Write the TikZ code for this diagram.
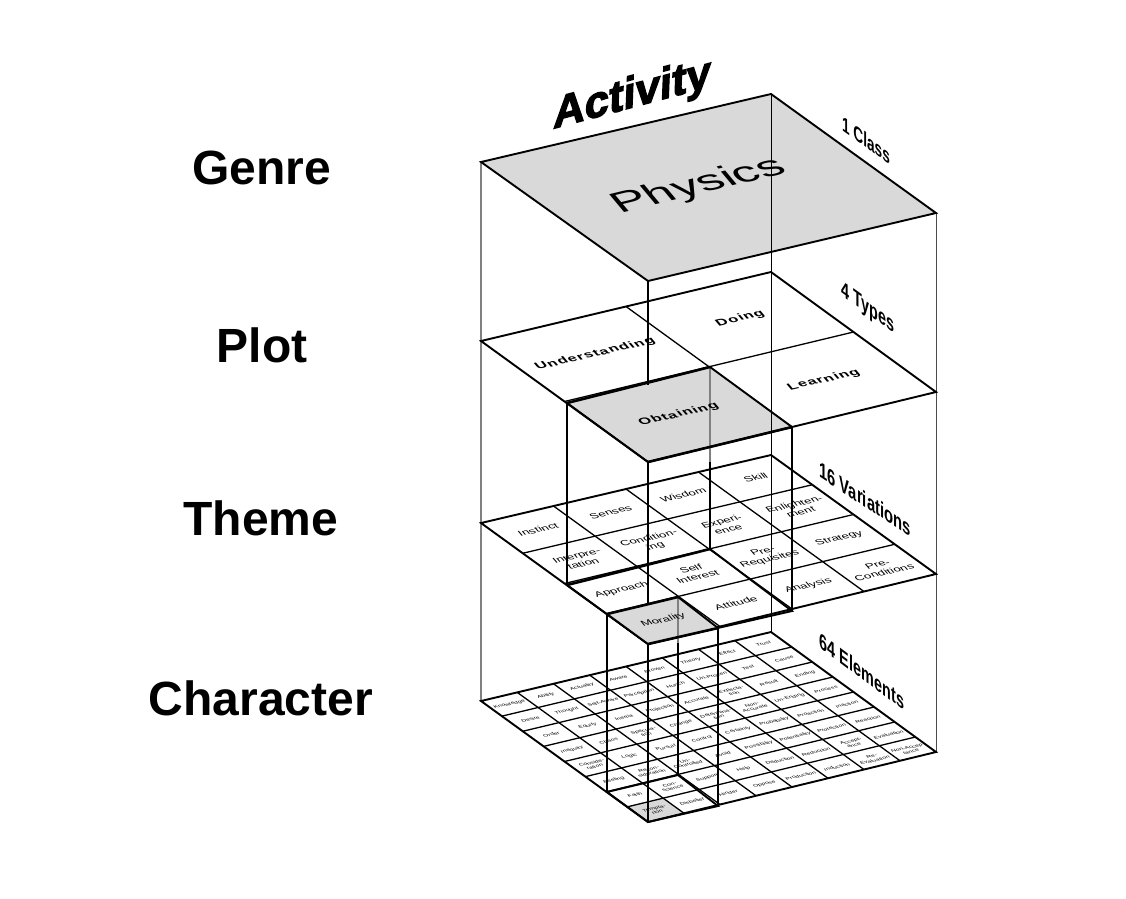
\documentclass[tikz,border=0pt]{standalone}
\usepackage{fontspec}
\setmainfont{Liberation Sans}
\newfontfamily\heavyf[FakeBold=3,FakeStretch=1.12]{Liberation Sans Bold}
\newfontfamily\spacedb[LetterSpace=6]{Liberation Sans Bold}
\usetikzlibrary{calc}
\definecolor{facegray}{gray}{0.85}
\definecolor{sideline}{gray}{0.5}
\tikzset{
  edgeline/.style={line width=1.9pt,line join=miter},
  gridline/.style={line width=1.3pt},
  heavyline/.style={line width=2.6pt,line join=miter},
  sidetext/.style={font=\fontsize{20}{20}\selectfont\bfseries},
  leveltext/.style={font=\fontsize{48}{50}\selectfont\bfseries},
  typetext/.style={font=\fontsize{13}{13}\selectfont\spacedb},
  vartext/.style={font=\fontsize{10.5}{12}\selectfont,align=center},
  elemtext/.style={font=\fontsize{5.3}{5.8}\selectfont,align=center},
}
\newcommand{\planegrid}[2]{%
  \foreach \k in {1,...,\numexpr#2-1\relax}{
    \pgfmathsetmacro\t{\k/#2}
    \draw[gridline] ($(L#1)!\t!(B#1)$) -- ($(F#1)!\t!(R#1)$);
    \draw[gridline] ($(L#1)!\t!(F#1)$) -- ($(B#1)!\t!(R#1)$);
  }
}
\newcommand{\planeedge}[1]{\draw[edgeline] (L#1) -- (B#1) -- (R#1) -- (F#1) -- cycle;}
\newcommand{\celltext}[6]{%
  \pgfmathsetmacro\cx{481+(#3+.5)/#2*290+(#4+.5)/#2*167}
  \pgfmathsetmacro\cy{#1-(#3+.5)/#2*69+(#4+.5)/#2*121}
  \begin{scope}[shift={(\cx,\cy)},cm={1.17,.27,-.55,.65,(0,0)},transform shape]
    \node[#5,inner sep=0pt] (cell-#2-#3-#4) at (0,0) {#6};
  \end{scope}
}
\begin{document}
\begin{tikzpicture}[x=1pt,y=-1pt]
\useasboundingbox (0,0) rectangle (1126,898);
\fill[white] (0,0) rectangle (1126,898);

\coordinate (L1) at (481,162); \coordinate (B1) at (771,94);  \coordinate (R1) at (936,213); \coordinate (F1) at (648,281);
\coordinate (L2) at (481,341); \coordinate (B2) at (771,272); \coordinate (R2) at (936,392); \coordinate (F2) at (648,462);
\coordinate (L3) at (481,523); \coordinate (B3) at (771,455); \coordinate (R3) at (936,574); \coordinate (F3) at (648,644);
\coordinate (L4) at (481,701); \coordinate (B4) at (771,632); \coordinate (R4) at (936,752); \coordinate (F4) at (648,822);

\coordinate (OL) at (567,403); \coordinate (OB) at (710,367); \coordinate (OR) at (792,427);
\coordinate (PL) at (567,585); \coordinate (PB) at (710,549); \coordinate (PR) at (792,611);
\coordinate (ML) at (607,614); \coordinate (MB) at (678,597); \coordinate (MR) at (718,628);
\coordinate (NL) at (607,792); \coordinate (NB) at (678,775); \coordinate (NR) at (718,806);
\coordinate (TL) at ($(L4)!.875!(F4)$);
\coordinate (TR) at ($(F4)!.125!(R4)$);
\coordinate (TB) at ($(TL)+(TR)-(F4)$);
\coordinate (FA) at (648,385);
\coordinate (FB) at (648,604);

\draw[sideline,line width=1.2pt] (L1) -- (L4);
\draw[black!70,line width=.9pt] (R1) -- (R4);

\fill[facegray] (L1) -- (B1) -- (R1) -- (F1) -- cycle;
\fill[facegray] (TL) -- (TB) -- (TR) -- (F4) -- cycle;

\planegrid{4}{8}
\planeedge{4}
\draw[edgeline] (NL) -- (NB) -- (NR) -- (F4) -- cycle;

\planegrid{3}{4}
\planeedge{3}
\draw[heavyline] (PL) -- (PB);
\draw[edgeline] (PB) -- (PR) -- (F3) -- (PL);

\planegrid{2}{2}
\fill[facegray] (OL) -- (OB) -- (OR) -- (F2) -- cycle;
\fill[facegray] (ML) -- (MB) -- (MR) -- (F3) -- cycle;
\planeedge{2}

\draw[heavyline] (F1) -- (FA);
\draw[heavyline] (F2) -- (FB);
\draw[heavyline] (F3) -- (F4);

\draw[black,line width=.8pt] (B1) -- (B4);
\draw[sideline,line width=1.6pt] (OB) -- ($(OB)!.52!(PB)$);
\draw[heavyline] ($(OB)!.52!(PB)$) -- (PB);
\draw[sideline,line width=1.6pt] (MB) -- ($(MB)!.26!(NB)$);
\draw[heavyline] ($(MB)!.26!(NB)$) -- (NB);

\draw[heavyline] (OL) -- (PL);
\draw[heavyline] (OR) -- (PR);
\draw[heavyline] (ML) -- (NL);
\draw[heavyline] (MR) -- (NR);

\draw[heavyline] (OL) -- (OB);
\draw[heavyline] (OR) -- (F2);
\draw[edgeline] (OB) -- (OR);
\draw[edgeline] (OL) -- (F2);
\draw[heavyline] (ML) -- (MB);
\draw[heavyline] (MR) -- (F3);
\draw[edgeline] (MB) -- (MR);
\draw[edgeline] (ML) -- (F3);
\planeedge{1}

\node[leveltext] (genre) at (262,168) {Genre};
\node[leveltext] (plot) at (262,345) {Plot};
\node[leveltext] (theme) at (261,518) {Theme};
\node[leveltext] (character) at (261,698) {Character};

\begin{scope}[shift={(632,96)},cm={1.08,.29,.05,1.25,(0,0)},transform shape]
  \node[font=\fontsize{36}{36}\selectfont\heavyf,inner sep=0pt] (activity) at (0,0) {Activity};
\end{scope}
\begin{scope}[shift={(699,186)},cm={1.36,.33,-.6,.72,(0,0)},transform shape]
  \node[font=\fontsize{36}{36}\selectfont,inner sep=0pt] (physics) at (0,0) {Physics};
\end{scope}

\begin{scope}[shift={(866,140)},cm={.72,-.52,0,1.1,(0,0)},transform shape]
  \node[font=\fontsize{19}{19}\selectfont\bfseries,inner sep=0pt] (class) at (0,0) {1 Class};
\end{scope}
\begin{scope}[shift={(868,309)},cm={.72,-.52,0,1.1,(0,0)},transform shape]
  \node[sidetext,inner sep=0pt] (types) at (0,0) {4 Types};
\end{scope}
\begin{scope}[shift={(865,499)},cm={.74,-.49,0,1.1,(0,0)},transform shape]
  \node[sidetext,inner sep=0pt] (variations) at (0,0) {16 Variations};
\end{scope}
\begin{scope}[shift={(862,671)},cm={.72,-.54,0,1.1,(0,0)},transform shape]
  \node[sidetext,inner sep=0pt] (elements) at (0,0) {64 Elements};
\end{scope}

\celltext{341}{2}{0}{0}{typetext}{Understanding}
\celltext{340}{2}{1}{0}{typetext}{Doing}
\celltext{341}{2}{0}{1}{typetext}{Obtaining}
\celltext{341}{2}{1}{1}{typetext}{Learning}

\celltext{523}{4}{0}{0}{vartext}{Instinct}
\celltext{523}{4}{1}{0}{vartext}{Senses}
\celltext{523}{4}{2}{0}{vartext}{Wisdom}
\celltext{523}{4}{3}{0}{vartext}{Skill}
\celltext{523}{4}{0}{1}{vartext}{Interpre-\\tation}
\celltext{523}{4}{1}{1}{vartext}{Condition-\\ing}
\celltext{523}{4}{2}{1}{vartext}{Experi-\\ence}
\celltext{523}{4}{3}{1}{vartext}{Enlighten-\\ment}
\celltext{523}{4}{0}{2}{vartext}{Approach}
\celltext{523}{4}{1}{2}{vartext}{Self\\Interest}
\celltext{523}{4}{2}{2}{vartext}{Pre-\\Requisites}
\celltext{523}{4}{3}{2}{vartext}{Strategy}
\celltext{523}{4}{0}{3}{vartext}{Morality}
\celltext{523}{4}{1}{3}{vartext}{Attitude}
\celltext{523}{4}{2}{3}{vartext}{Analysis}
\celltext{523}{4}{3}{3}{vartext}{Pre-\\Conditions}

\foreach \j/\names in {
 0/{Knowledge,Ability,Actuality,Aware,Proven,Theory,Effect,Trust},
 1/{Desire,Thought,Self-Aware,Perception,Hunch,Un-Proven,Test,Cause},
 2/{Order,Equity,Inertia,Projection,Accurate,Expecta-\\tion,Result,Ending},
 3/{Inequity,Chaos,Specula-\\tion,Change,Determina-\\tion,Non-\\Accurate,Un-Ending,Process},
 4/{Conside-\\ration,Logic,Pursuit,Control,Certainty,Probability,Proaction,Inaction},
 5/{Feeling,Recon-\\sideration,Un-\\Controlled,Avoid,Possibility,Potentiality,Protection,Reaction},
 6/{Faith,Con-\\science,Support,Help,Deduction,Reduction,Accept-\\ance,Evaluation},
 7/{Tempta-\\tion,Disbelief,Hinder,Oppose,Production,Induction,Re-\\Evaluation,Non-Accep-\\tance}}{
  \foreach \nm [count=\c from 0] in \names {
    \celltext{701}{8}{\c}{\j}{elemtext}{\nm}
  }
}
\end{tikzpicture}
\end{document}
